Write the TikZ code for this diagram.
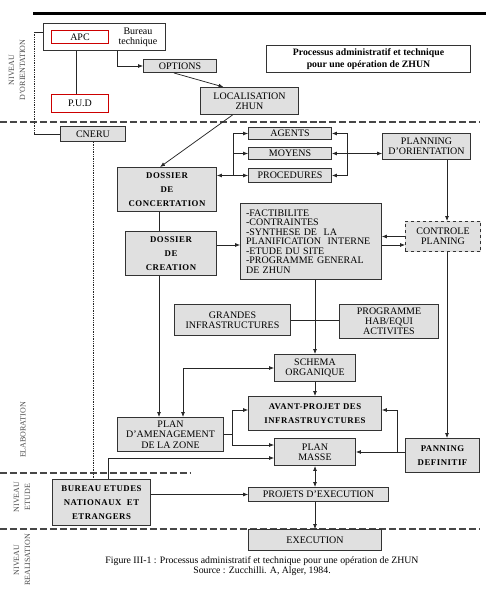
\documentclass[tikz,border=0pt]{standalone}
\usepackage{fontspec}
\setmainfont{Liberation Serif}
\usepackage{tikz}
\usetikzlibrary{arrows.meta, positioning, calc}
\tikzset{
    bloc/.style args={#1and#2}{
        draw=black!80,
        fill=black!12,
        rectangle,
        minimum width=#1pt,
        minimum height=#2pt,
        inner sep=1pt,
        outer sep=0pt,
        line width=1pt,
        align=center,
        font=\fontsize{10}{10.5}\selectfont,
    },
    gras/.style={
        font=\fontsize{8.8}{14}\selectfont\bfseries\addfontfeature{LetterSpace=6}
    },
    rouge/.style={
        draw=red!80!black,
        fill=white,
        line width=1pt
    },
    niveau/.style={
        rotate=90,
        align=center,
        text=black!70,
        font=\fontsize{8}{11}\selectfont
    }
}

\begin{document}
\begin{tikzpicture}[x=0.0352cm, y=-0.0352cm, >={Latex[length=5pt,width=4pt]}]

\tikzstyle{lien} = [line width=0.75pt, black!85]
\tikzstyle{separation} = [line width=1.3pt, black!72, dash pattern=on 7pt off 3pt]

\useasboundingbox (0,0) rectangle (486,601);

\draw[line width=3pt] (33,14) -- (486,14);
\draw[separation] (0,122) -- (480,122);
\draw[separation] (0,473) -- (190,473);
\draw[separation] (0,529) -- (480,529);

\node[niveau] (lorient) at (17,70) {NIVEAU\\D'ORIENTATION};
\node[niveau] (lelab) at (23,430) {ELABORATION};
\node[niveau] (letude) at (22,497) {NIVEAU\\ETUDE};
\node[niveau] (lreal) at (22,560) {NIVEAU\\REALISATION};

% niveau d'orientation
\node[bloc=123 and 28, fill=white] (apcbox) at (104.5,37) {};
\node[bloc=58 and 14, rouge] (apc) at (80,37) {APC};
\node[font=\fontsize{10}{10.5}\selectfont, align=center, inner sep=0pt] (bureautech) at (138,37.5) {Bureau\\technique};
\node[bloc=58 and 19, rouge] (pud) at (80,103.5) {P.U.D};
\node[bloc=74 and 14] (options) at (180,66) {OPTIONS};
\node[bloc=99 and 28] (locali) at (249.5,101) {LOCALISATION\\ZHUN};
\node[bloc=205 and 28, fill=white, font=\fontsize{9.8}{12}\selectfont\bfseries] (titre) at (368.5,59) {Processus administratif et technique\\pour une opération de ZHUN};

% elaboration
\node[bloc=66 and 16] (cneru) at (93,134) {CNERU};
\node[bloc=100 and 45, gras] (concert) at (167,189.5) {DOSSIER\\DE\\CONCERTATION};
\node[bloc=92 and 45, gras] (creation) at (171,253.5) {DOSSIER\\DE\\CREATION};
\node[bloc=84 and 13] (agents) at (290,133.5) {AGENTS};
\node[bloc=84 and 13] (moyens) at (290,153.5) {MOYENS};
\node[bloc=84 and 15] (proced) at (290,175.5) {PROCEDURES};
\node[bloc=89 and 27] (planorient) at (426.5,146.5) {PLANNING\\D'ORIENTATION};
\node[bloc=76 and 31, dashed] (controle) at (443,236.5) {CONTROLE\\PLANING};
\node[bloc=142 and 77, align=left, text width=130pt, font=\fontsize{10}{9.6}\selectfont] (fact) at (311,241.5) {-FACTIBILITE\\-CONTRAINTES\\-SYNTHESE DE~~LA\\PLANIFICATION~~INTERNE\\-ETUDE DU SITE\\-PROGRAMME GENERAL\\DE ZHUN};
\node[bloc=117 and 32] (grandes) at (232.5,320) {GRANDES\\INFRASTRUCTURES};
\node[bloc=100 and 35, font=\fontsize{10}{9.8}\selectfont] (progr) at (389,321.5) {PROGRAMME\\HAB/EQUI\\ACTIVITES};
\node[bloc=82 and 28] (schema) at (315,368) {SCHEMA\\ORGANIQUE};
\node[bloc=107 and 35] (amenag) at (170.5,434.5) {PLAN\\D'AMENAGEMENT\\DE LA ZONE};
\node[bloc=134 and 35, gras] (avant) at (315,413.5) {AVANT-PROJET DES\\INFRASTRUYCTURES};
\node[bloc=82 and 28] (masse) at (315,452) {PLAN\\MASSE};
\node[bloc=75 and 35, gras] (definitif) at (442.5,455.5) {PANNING\\DEFINITIF};

% etude et realisation
\node[bloc=99 and 47, gras] (bureau) at (101.5,502.5) {BUREAU ETUDES\\NATIONAUX~~ET\\ETRANGERS};
\node[bloc=141 and 15] (projets) at (318.5,494.5) {PROJETS D'EXECUTION};
\node[bloc=134 and 22] (execution) at (315,540) {EXECUTION};

\node[align=center, font=\fontsize{9.8}{10.5}\selectfont] (legende) at (262,566) {Figure III-1 : Processus administratif et technique pour une opération de ZHUN\\Source : Zucchilli. A, Alger, 1984.};

\coordinate (xctl) at (447,0);
\coordinate (xdos) at (159,0);
\coordinate (bg) at (233,0);
\coordinate (bd) at (347,0);
\coordinate (xam) at (183,0);
\coordinate (bam) at (232,0);
\coordinate (bdf) at (397,0);
\coordinate (xbu) at (108,0);
\coordinate (yav) at (0,410);
\coordinate (yma) at (0,445);
\coordinate (ybu) at (0,458);
\coordinate (c1) at ([yshift=-8.5pt]controle.west);

\draw[lien] ([xshift=-4pt]pud.north) -- ([xshift=-4pt]pud.north |- apcbox.south);
\draw[lien,->] ([xshift=12.5pt]apcbox.south) |- (options.west);
\draw[lien,->] ([xshift=-6pt]options.south) -- ([xshift=-26pt]locali.north);
\draw[lien,->] ([xshift=-17pt]locali.south) -- ([xshift=-7pt]concert.north);
\draw[lien] ([yshift=5pt]apcbox.west) -- ++(-9pt,0) coordinate (dtop);
\draw[lien, densely dotted] (dtop) -- (dtop |- cneru.west);
\draw[lien] (dtop |- cneru.west) -- (cneru.west);
\draw[lien, densely dotted] (cneru.south) -- (cneru.south |- bureau.north);

\draw[lien] (concert.south -| xdos) -- (creation.north -| xdos);
\draw[lien,->] (creation.south -| xdos) -- (amenag.north -| xdos);
\draw[lien,<->] (concert.east |- proced.west) -- (proced.west);
\draw[lien,->] (bg |- proced.west) |- (agents.west);
\draw[lien,->] (bg |- moyens.west) -- (moyens.west);
\draw[lien,<->] (moyens.east) -- (planorient.west |- moyens.east);
\draw[lien,->] (bd |- moyens.east) |- (agents.east);
\draw[lien,->] (bd |- moyens.east) |- (proced.east);

\draw[lien,->] (planorient.south -| xctl) -- (controle.north -| xctl);
\draw[lien,->] (controle.west) -- (controle.west -| fact.east);
\draw[lien,->] (c1 -| fact.east) -- (c1);
\draw[lien,->] (creation.east |- c1) -- (fact.west |- c1);
\draw[lien,->] (fact.south -| schema.north) -- (schema.north);
\draw[lien] (grandes.east) -- (progr.west |- grandes.east);

\draw[lien,<->] (schema.west) -| (amenag.north -| xam);
\draw[lien,->] (schema.south) -- (avant.north);
\draw[lien] (amenag.east) -- (amenag.east -| bam);
\draw[lien,->] (amenag.east -| bam) |- (avant.west |- yav);
\draw[lien,->] (amenag.east -| bam) |- (masse.west |- yma);
\draw[lien,->] (controle.south -| xctl) -- (definitif.north -| xctl);
\draw[lien,->] (definitif.west |- masse.east) -- (masse.east);
\draw[lien,->] (bdf |- masse.east) |- (avant.east |- yav);

\draw[lien,->] (bureau.north -| xbu) |- (masse.west |- ybu);
\draw[lien,<->] (masse.south) -- (masse.south |- projets.north);
\draw[lien,->] (bureau.east |- projets.west) -- (projets.west);
\draw[lien,->] (projets.south -| masse.south) -- (execution.north);

\end{tikzpicture}
\end{document}
